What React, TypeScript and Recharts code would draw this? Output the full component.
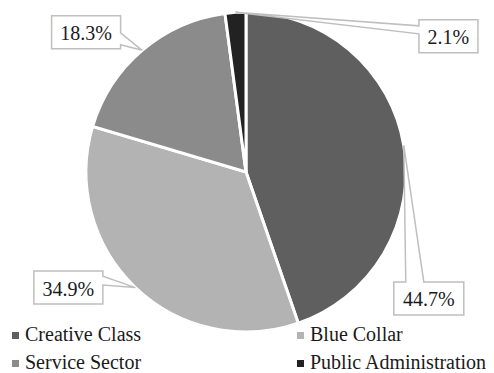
import { PieChart, Pie, Cell, Legend } from "recharts";

const CATEGORIES = [
  "Creative Class",
  "Blue Collar",
  "Service Sector",
  "Public Administration",
];
const SHARES = [44.7, 34.9, 18.3, 2.1];

const COLORS = ["#5f5f5f", "#b3b3b3", "#8b8b8b", "#222222"];
const FONT = "'Liberation Serif', serif";

// callout placement per slice: box centre offset from the slice tip,
// box width, side the pointer leaves from and where its base sits on that side
const CALLOUTS = [
  { dx: 25, dy: 153, w: 70, side: "top", b1: 12, b2: 30 },
  { dx: -67, dy: 0, w: 69, side: "right", b1: 5, b2: 14 },
  { dx: -56, dy: -18, w: 69, side: "right", b1: 17, b2: 29 },
  { dx: 213, dy: 24, w: 59, side: "left", b1: 6, b2: 14 },
];
const BOX_H = 33;

const rows = CATEGORIES.map((name, i) => ({ name, value: SHARES[i] }));

const RADIAN = Math.PI / 180;

function calloutPath(
  L: number,
  T: number,
  R: number,
  B: number,
  side: string,
  b1: number,
  b2: number,
  tx: number,
  ty: number
) {
  if (side === "top") {
    return `M${L},${T} L${L + b1},${T} L${tx},${ty} L${L + b2},${T} L${R},${T} L${R},${B} L${L},${B} Z`;
  }
  if (side === "right") {
    return `M${L},${T} L${R},${T} L${R},${T + b1} L${tx},${ty} L${R},${T + b2} L${R},${B} L${L},${B} Z`;
  }
  if (side === "left") {
    return `M${L},${T} L${R},${T} L${R},${B} L${L},${B} L${L},${T + b2} L${tx},${ty} L${L},${T + b1} Z`;
  }
  return `M${L},${T} L${R},${T} L${R},${B} L${L},${B} Z`;
}

function renderCallout(props: any) {
  const { cx, cy, midAngle, outerRadius, value, index } = props;
  const c = CALLOUTS[index];
  const tx = cx + outerRadius * Math.cos(-midAngle * RADIAN);
  const ty = cy + outerRadius * Math.sin(-midAngle * RADIAN);
  const mx = tx + c.dx;
  const my = ty + c.dy;
  const L = mx - c.w / 2;
  const R = mx + c.w / 2;
  const T = my - BOX_H / 2;
  const B = my + BOX_H / 2;
  return (
    <g key={`callout-${index}`}>
      <path
        d={calloutPath(L, T, R, B, c.side, c.b1, c.b2, tx, ty)}
        fill="#ffffff"
        stroke="#bfbfbf"
        strokeWidth={1.5}
        strokeLinejoin="miter"
      />
      <text
        x={mx}
        y={my + 1}
        textAnchor="middle"
        dominantBaseline="central"
        style={{ fontFamily: FONT, fontSize: 20 }}
        fill="#1a1a1a"
      >
        {`${Number(value).toFixed(1)}%`}
      </text>
    </g>
  );
}

function LegendGrid(props: any) {
  // keep the series order rather than the alphabetical default
  const payload = [...(props.payload ?? [])].sort(
    (a: any, b: any) => CATEGORIES.indexOf(a.value) - CATEGORIES.indexOf(b.value)
  );
  return (
    <div
      style={{
        display: "grid",
        gridTemplateColumns: "285px 197px",
        paddingLeft: 12,
        fontFamily: FONT,
        fontSize: 20,
        color: "#1a1a1a",
      }}
    >
      {payload.map((entry: any, i: number) => (
        <div
          key={`legend-${i}`}
          style={{ display: "flex", alignItems: "flex-start", height: 28, lineHeight: "28px" }}
        >
          <span
            style={{
              display: "inline-block",
              width: 7,
              height: 7,
              marginTop: 12,
              marginRight: 6,
              background: COLORS[CATEGORIES.indexOf(entry.value)] ?? entry.color,
            }}
          />
          <span style={{ whiteSpace: "nowrap" }}>{entry.value}</span>
        </div>
      ))}
    </div>
  );
}

export default function App() {
  return (
    <div style={{ width: 494, height: 373, background: "#ffffff" }}>
      <style>{`body{margin:0}`}</style>
      <PieChart width={494} height={373} margin={{ top: 0, right: 0, bottom: 0, left: 0 }}>
        <Pie
          data={rows}
          dataKey="value"
          nameKey="name"
          cx={246}
          cy={172}
          outerRadius={160}
          startAngle={90}
          endAngle={-270}
          stroke="#ffffff"
          strokeWidth={3}
          label={renderCallout}
          labelLine={false}
          isAnimationActive={false}
        >
          {rows.map((_, i) => (
            <Cell key={`cell-${i}`} fill={COLORS[i]} />
          ))}
        </Pie>
        <Legend
          content={LegendGrid}
          wrapperStyle={{ left: 0, top: 320, width: 494, height: 56 }}
        />
      </PieChart>
    </div>
  );
}
